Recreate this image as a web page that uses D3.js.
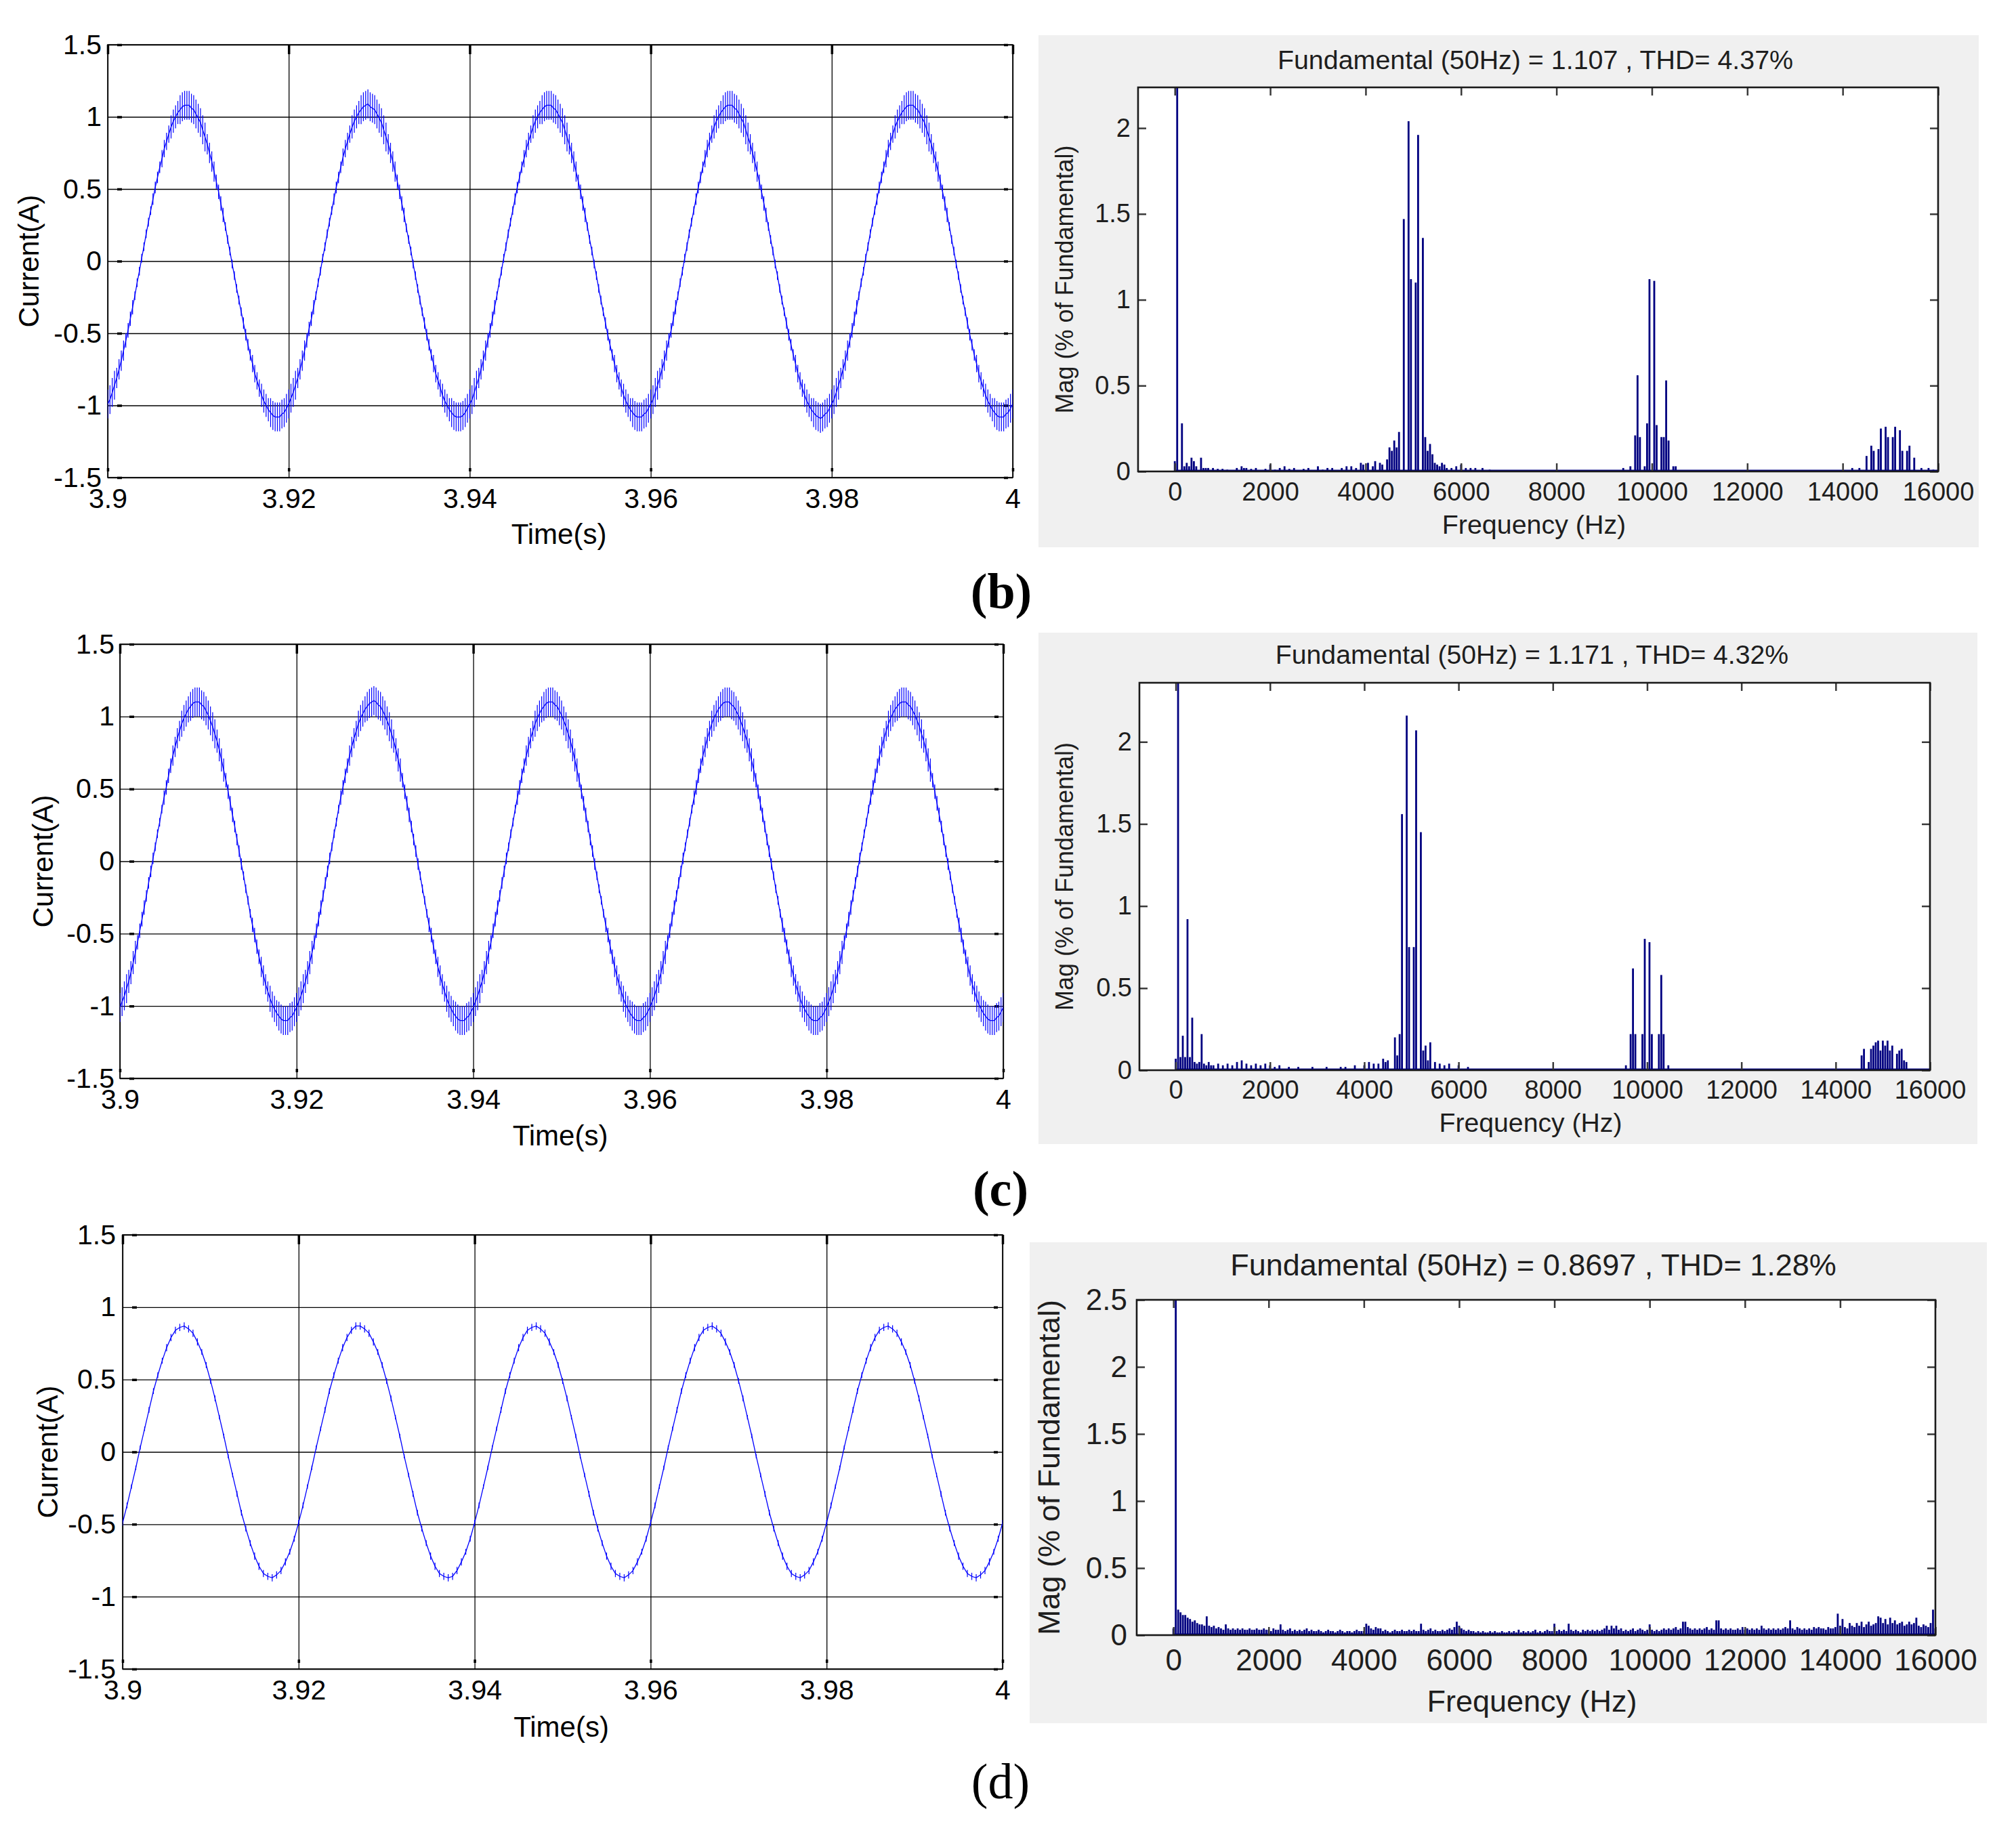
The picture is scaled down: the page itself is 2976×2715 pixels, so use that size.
<!DOCTYPE html>
<html>
<head>
<meta charset="utf-8">
<script src="https://cdn.jsdelivr.net/npm/d3@7"></script>
<style>
body { margin: 0; background: #fff; }
</style>
</head>
<body>
<svg id="fig" width="2976" height="2715"></svg>
<script>
var FONT = "'Liberation Sans', Arial, sans-serif";

// axis ticks
var timeTicks = [3.9, 3.92, 3.94, 3.96, 3.98, 4];
var curTicks = [-1.5, -1, -0.5, 0, 0.5, 1, 1.5];
var freqTicks = [0, 2000, 4000, 6000, 8000, 10000, 12000, 14000, 16000];
var magTicks = [0, 0.5, 1, 1.5, 2];
var magTicksD = [0, 0.5, 1, 1.5, 2, 2.5];

// current samples from 3.9 s to 4.0 s (b, c every 0.25 ms)
var curB = [
  -.99,-.96,-.91,-.86,-.81,-.75,-.69,-.62,-.55,-.48,-.4,-.32,-.24,-.15,-.07,.02,.1,.19,.27,.35,.43,.51,.58,.65,.71,.78,.83,.88,.93,.97,1,1.03,1.05,1.07,1.08,1.08,1.08,1.06,1.05,1.02,
  .99,.96,.91,.86,.81,.75,.69,.62,.55,.48,.4,.32,.24,.15,.07,-.02,-.1,-.19,-.27,-.35,-.43,-.51,-.58,-.65,-.71,-.78,-.83,-.88,-.93,-.97,-1,-1.03,-1.05,-1.07,-1.08,-1.08,-1.08,-1.06,-1.05,-1.02,
  -.99,-.95,-.91,-.86,-.81,-.75,-.69,-.62,-.55,-.47,-.4,-.32,-.24,-.15,-.07,.02,.1,.19,.27,.35,.43,.51,.58,.65,.72,.78,.83,.88,.93,.97,1,1.03,1.05,1.07,1.08,1.09,1.07,1.06,1.05,1.02,
  .99,.96,.91,.86,.81,.75,.69,.62,.55,.48,.4,.32,.23,.15,.07,-.02,-.1,-.19,-.27,-.35,-.43,-.51,-.58,-.65,-.71,-.78,-.83,-.88,-.93,-.97,-1,-1.03,-1.05,-1.07,-1.08,-1.08,-1.08,-1.07,-1.05,-1.02,
  -.99,-.96,-.91,-.86,-.81,-.75,-.69,-.62,-.55,-.48,-.4,-.32,-.24,-.15,-.07,.02,.1,.19,.27,.35,.43,.51,.58,.65,.71,.78,.83,.88,.93,.97,1,1.03,1.05,1.07,1.08,1.08,1.08,1.06,1.05,1.02,
  .99,.96,.91,.86,.81,.75,.69,.62,.55,.48,.4,.32,.24,.15,.07,-.02,-.1,-.19,-.27,-.35,-.43,-.51,-.58,-.65,-.71,-.78,-.83,-.88,-.93,-.97,-1,-1.03,-1.05,-1.07,-1.08,-1.08,-1.08,-1.06,-1.05,-1.02,
  -.99,-.96,-.91,-.86,-.81,-.75,-.69,-.62,-.55,-.48,-.4,-.32,-.24,-.15,-.07,.02,.1,.19,.27,.35,.43,.51,.58,.65,.71,.78,.83,.88,.93,.97,1,1.03,1.05,1.07,1.08,1.08,1.08,1.06,1.05,1.02,
  .99,.96,.91,.86,.81,.75,.69,.62,.55,.48,.4,.32,.24,.15,.07,-.02,-.1,-.19,-.27,-.35,-.43,-.51,-.58,-.65,-.71,-.78,-.83,-.88,-.93,-.97,-1,-1.03,-1.05,-1.07,-1.08,-1.09,-1.08,-1.06,-1.05,-1.02,
  -.99,-.96,-.91,-.86,-.81,-.75,-.69,-.62,-.55,-.48,-.4,-.32,-.24,-.15,-.07,.02,.1,.19,.27,.35,.43,.51,.58,.65,.71,.78,.83,.88,.93,.97,1,1.03,1.05,1.07,1.08,1.08,1.08,1.06,1.05,1.02,
  .99,.96,.91,.86,.81,.75,.69,.62,.55,.48,.4,.32,.24,.15,.07,-.02,-.1,-.19,-.27,-.35,-.43,-.51,-.58,-.65,-.71,-.78,-.83,-.88,-.93,-.97,-1,-1.03,-1.05,-1.07,-1.08,-1.08,-1.08,-1.06,-1.05,-1.02,
  -.99
];
var curC = [
  -1.01,-.97,-.93,-.88,-.83,-.77,-.7,-.63,-.56,-.48,-.4,-.32,-.24,-.15,-.07,.02,.1,.19,.27,.36,.44,.51,.59,.66,.73,.79,.85,.9,.95,.99,1.02,1.05,1.07,1.09,1.1,1.1,1.1,1.08,1.07,1.04,
  1.01,.97,.93,.88,.83,.77,.7,.63,.56,.48,.4,.32,.24,.15,.07,-.02,-.1,-.19,-.27,-.36,-.44,-.51,-.59,-.66,-.73,-.79,-.85,-.9,-.95,-.99,-1.02,-1.05,-1.07,-1.09,-1.1,-1.1,-1.1,-1.08,-1.07,-1.04,
  -1.01,-.97,-.93,-.88,-.83,-.77,-.7,-.63,-.56,-.48,-.4,-.32,-.24,-.15,-.07,.02,.1,.19,.27,.36,.44,.51,.59,.66,.73,.79,.85,.9,.95,.99,1.02,1.05,1.07,1.09,1.1,1.11,1.1,1.08,1.07,1.04,
  1.01,.97,.93,.88,.83,.77,.7,.63,.56,.48,.4,.32,.24,.15,.07,-.02,-.1,-.19,-.27,-.36,-.44,-.51,-.59,-.66,-.73,-.79,-.85,-.9,-.95,-.99,-1.02,-1.05,-1.07,-1.09,-1.1,-1.1,-1.1,-1.08,-1.07,-1.04,
  -1.01,-.97,-.93,-.88,-.83,-.77,-.7,-.63,-.56,-.48,-.4,-.32,-.24,-.15,-.07,.02,.1,.19,.27,.36,.44,.51,.59,.66,.73,.79,.85,.9,.95,.99,1.02,1.05,1.07,1.09,1.1,1.1,1.1,1.08,1.07,1.04,
  1.01,.97,.93,.88,.83,.77,.7,.63,.56,.48,.4,.32,.24,.15,.07,-.02,-.1,-.19,-.27,-.36,-.44,-.51,-.59,-.66,-.73,-.79,-.85,-.9,-.95,-.99,-1.02,-1.05,-1.07,-1.09,-1.1,-1.1,-1.1,-1.08,-1.07,-1.04,
  -1.01,-.97,-.93,-.88,-.83,-.77,-.7,-.63,-.56,-.48,-.4,-.32,-.24,-.15,-.07,.02,.1,.19,.27,.36,.44,.51,.59,.66,.73,.79,.85,.9,.95,.99,1.02,1.05,1.07,1.09,1.1,1.1,1.1,1.08,1.07,1.04,
  1.01,.97,.93,.88,.83,.77,.7,.63,.56,.48,.4,.32,.24,.15,.07,-.02,-.1,-.19,-.27,-.36,-.44,-.51,-.59,-.66,-.73,-.79,-.85,-.9,-.95,-.99,-1.02,-1.05,-1.07,-1.09,-1.1,-1.1,-1.1,-1.08,-1.07,-1.04,
  -1.01,-.97,-.93,-.88,-.83,-.77,-.7,-.63,-.56,-.48,-.4,-.32,-.24,-.15,-.07,.02,.1,.19,.27,.36,.44,.51,.59,.66,.73,.79,.85,.9,.95,.99,1.02,1.05,1.07,1.09,1.1,1.1,1.1,1.08,1.07,1.04,
  1.01,.97,.93,.88,.83,.77,.7,.63,.56,.48,.4,.32,.24,.15,.07,-.02,-.1,-.19,-.27,-.36,-.44,-.51,-.59,-.66,-.73,-.79,-.85,-.9,-.95,-.99,-1.02,-1.05,-1.07,-1.09,-1.1,-1.1,-1.1,-1.08,-1.07,-1.04,
  -1.01
];
// panel (d) every 0.5 ms
var curD = [
  -.49,-.37,-.24,-.11,.03,.16,.29,.42,.53,.63,.72,.79,.84,.86,.87,.85,.82,.76,.69,.6,.49,.37,.24,.11,-.03,-.16,-.29,-.42,-.53,-.63,-.72,-.79,-.84,-.86,-.87,-.85,-.82,-.76,-.69,-.6,
  -.49,-.37,-.24,-.11,.03,.16,.29,.42,.53,.63,.72,.79,.84,.87,.87,.85,.82,.76,.69,.6,.49,.37,.24,.11,-.03,-.16,-.29,-.42,-.53,-.63,-.72,-.79,-.84,-.86,-.87,-.86,-.82,-.76,-.69,-.6,
  -.49,-.37,-.24,-.11,.03,.16,.29,.42,.53,.63,.72,.79,.84,.86,.87,.85,.82,.76,.69,.6,.49,.37,.24,.11,-.03,-.16,-.29,-.42,-.53,-.63,-.72,-.79,-.84,-.86,-.87,-.85,-.82,-.76,-.69,-.6,
  -.49,-.37,-.24,-.11,.03,.16,.29,.42,.53,.63,.72,.79,.84,.86,.87,.85,.82,.76,.69,.6,.49,.37,.24,.11,-.03,-.16,-.29,-.42,-.53,-.63,-.72,-.79,-.84,-.86,-.87,-.85,-.82,-.76,-.69,-.6,
  -.49,-.37,-.24,-.11,.03,.16,.29,.42,.53,.63,.72,.79,.84,.86,.87,.85,.82,.76,.69,.6,.49,.37,.24,.11,-.03,-.16,-.29,-.42,-.53,-.63,-.72,-.79,-.84,-.86,-.87,-.85,-.82,-.76,-.69,-.6,
  -.49
];

// switching ripple half-height, every 1 ms
var ripB = [
  .1,.07,.05,.03,.03,.04,.06,.08,.1,.1,.1,.07,.05,.03,.03,.04,.06,.08,.1,.1,
  .1,.07,.05,.03,.03,.04,.06,.08,.1,.1,.1,.07,.05,.03,.03,.04,.06,.08,.1,.1,
  .1,.07,.05,.03,.03,.04,.06,.08,.1,.1,.1,.07,.05,.03,.03,.04,.06,.08,.1,.1,
  .1,.07,.05,.03,.03,.04,.06,.08,.1,.1,.1,.07,.05,.03,.03,.04,.06,.08,.1,.1,
  .1,.07,.05,.03,.03,.04,.06,.08,.1,.1,.1,.07,.05,.03,.03,.04,.06,.08,.1,.1,
  .1
];
var ripC = [
  .1,.08,.05,.04,.03,.05,.07,.09,.1,.1,.1,.08,.05,.04,.03,.05,.07,.09,.1,.1,
  .1,.08,.05,.04,.03,.05,.07,.09,.1,.1,.1,.08,.05,.04,.03,.05,.07,.09,.1,.1,
  .1,.08,.05,.04,.03,.05,.07,.09,.1,.1,.1,.08,.05,.04,.03,.05,.07,.09,.1,.1,
  .1,.08,.05,.04,.03,.05,.07,.09,.1,.1,.1,.08,.05,.04,.03,.05,.07,.09,.1,.1,
  .1,.08,.05,.04,.03,.05,.07,.09,.1,.1,.1,.08,.05,.04,.03,.05,.07,.09,.1,.1,
  .1
];
var ripD = [
  .02,.015,.015,.02,.02,.025,.025,.025,.025,.02,.02,.015,.015,.02,.02,.025,.025,.025,.025,.02,
  .02,.015,.015,.02,.02,.025,.025,.025,.025,.02,.02,.015,.015,.02,.02,.025,.025,.025,.025,.02,
  .02,.015,.015,.02,.02,.025,.025,.025,.025,.02,.02,.015,.015,.02,.02,.025,.025,.025,.025,.02,
  .02,.015,.015,.02,.02,.025,.025,.025,.025,.02,.02,.015,.015,.02,.02,.025,.025,.025,.025,.02,
  .02,.015,.015,.02,.02,.025,.025,.025,.025,.02,.02,.015,.015,.02,.02,.025,.025,.025,.025,.02,
  .02
];

// harmonic spectra: [frequency Hz, magnitude % of fundamental]
var fftB = [
  [0,.06],[50,100],[150,.28],[200,.03],[250,.05],[300,.03],[350,.08],[400,.06],[450,.03],[550,.08],[600,.02],[650,.02],
  [700,.02],[800,.02],[900,.015],[1000,.015],[1100,.01],[1300,.02],[1400,.03],[1450,.02],[1500,.02],[1600,.015],[1700,.02],
  [1900,.015],[2000,.04],[2100,.01],[2200,.02],[2300,.03],[2400,.015],[2500,.02],[2700,.015],[2800,.02],[3000,.03],[3100,.01],
  [3200,.02],[3300,.02],[3500,.02],[3600,.03],[3700,.03],[3800,.02],[3900,.05],[3950,.04],[4050,.05],[4150,.03],[4200,.06],
  [4300,.05],[4350,.04],[4450,.07],[4500,.14],[4550,.12],[4600,.18],[4650,.14],[4700,.23],[4800,1.47],[4900,2.04],[4950,1.12],
  [5050,1.1],[5100,1.96],[5200,1.36],[5250,.2],[5300,.12],[5350,.16],[5400,.1],[5450,.05],[5500,.04],[5550,.03],[5600,.05],
  [5650,.04],[5700,.02],[5800,.02],[5900,.03],[6000,.04],[6100,.02],[6200,.02],[6300,.02],[6450,.02],[6600,.01],
  [9400,.02],[9550,.03],[9650,.21],[9700,.56],[9750,.2],[9850,.03],[9900,.28],[9950,1.12],[10050,1.11],[10100,.27],
  [10200,.2],[10250,.2],[10300,.53],[10350,.18],[10450,.03],[10500,.03],
  [14200,.02],[14350,.02],[14500,.09],[14600,.15],[14650,.12],[14750,.13],[14800,.25],[14900,.26],[14950,.2],[15050,.2],
  [15100,.26],[15200,.24],[15250,.12],[15350,.12],[15400,.15],[15500,.08],[15650,.02],[15800,.02],[15900,.01]
];
var fftC = [
  [0,.07],[50,100],[100,.08],[150,.21],[200,.08],[250,.92],[300,.08],[350,.32],[400,.05],[450,.04],[500,.05],[550,.22],
  [600,.04],[650,.03],[700,.05],[750,.03],[800,.03],[900,.04],[1000,.03],[1100,.04],[1200,.03],[1300,.05],[1400,.06],
  [1500,.04],[1600,.03],[1700,.04],[1800,.03],[1900,.04],[2000,.03],[2100,.02],[2200,.03],[2400,.02],[2600,.02],[2900,.02],
  [3200,.02],[3500,.02],[3600,.02],[3800,.03],[4000,.03],[4100,.05],[4200,.04],[4300,.04],[4400,.07],[4450,.05],[4500,.06],
  [4650,.2],[4700,.09],[4750,.22],[4800,1.56],[4900,2.16],[4950,.75],[5050,.75],[5100,2.07],[5200,1.45],[5250,.12],
  [5300,.15],[5350,.06],[5400,.17],[5500,.05],[5600,.04],[5700,.03],[5800,.04],[6000,.03],[6200,.02],
  [9550,.03],[9650,.22],[9700,.62],[9750,.22],[9900,.22],[9950,.8],[10050,.78],[10100,.22],[10250,.22],[10300,.58],
  [10350,.22],[10450,.03],
  [14550,.09],[14600,.13],[14700,.05],[14750,.13],[14800,.15],[14850,.17],[14900,.18],[14950,.12],[15000,.18],[15050,.15],
  [15100,.18],[15150,.12],[15200,.15],[15300,.1],[15350,.12],[15400,.13],[15450,.06],[15500,.05]
];
// panel (d): every 50 Hz bin from 0 to 16000 Hz
var fftD = [
  .05,100,.19,.17,.15,.15,.13,.12,.1,.11,.09,.08,.08,.07,.14,.07,.06,.07,.05,.06,
  .05,.04,.08,.05,.04,.05,.04,.05,.04,.05,.04,.04,.05,.04,.04,.05,.04,.04,.05,.04,
  .04,.03,.05,.04,.04,.08,.04,.03,.04,.05,.03,.04,.03,.04,.03,.04,.05,.03,.04,.03,
  .03,.04,.03,.02,.03,.04,.03,.03,.02,.03,.04,.03,.02,.03,.03,.02,.03,.04,.03,.03,
  .03,.085,.07,.05,.04,.06,.05,.05,.03,.04,.03,.02,.03,.04,.03,.03,.04,.03,.03,.04,
  .03,.04,.03,.03,.085,.04,.03,.04,.05,.03,.04,.03,.03,.04,.03,.04,.05,.04,.06,.1,
  .07,.05,.04,.03,.04,.03,.03,.02,.03,.02,.03,.02,.02,.03,.02,.03,.02,.02,.03,.02,
  .02,.03,.02,.03,.02,.04,.02,.03,.02,.03,.02,.03,.04,.02,.03,.02,.03,.04,.03,.03,
  .085,.03,.04,.03,.04,.03,.085,.04,.03,.04,.03,.02,.04,.03,.04,.03,.04,.03,.04,.03,
  .04,.05,.07,.04,.07,.05,.07,.04,.05,.03,.04,.03,.04,.05,.03,.04,.05,.04,.03,.04,
  .08,.04,.03,.04,.03,.04,.05,.04,.05,.04,.05,.06,.04,.05,.1,.1,.06,.05,.04,.05,
  .04,.05,.04,.05,.06,.04,.05,.04,.11,.11,.05,.04,.05,.04,.05,.04,.04,.05,.04,.06,
  .04,.05,.04,.05,.04,.05,.04,.07,.05,.04,.05,.04,.05,.04,.05,.04,.05,.06,.05,.11,
  .05,.04,.06,.05,.04,.05,.04,.05,.04,.06,.05,.06,.05,.05,.04,.06,.05,.05,.06,.16,
  .07,.12,.06,.05,.09,.07,.06,.09,.07,.1,.06,.08,.1,.07,.08,.09,.14,.13,.09,.12,
  .08,.13,.09,.11,.08,.09,.1,.07,.08,.1,.08,.09,.13,.07,.06,.08,.07,.06,.09,.19,
  .05
];

var titles = [
  "Fundamental (50Hz) = 1.107 , THD= 4.37%",
  "Fundamental (50Hz) = 1.171 , THD= 4.32%",
  "Fundamental (50Hz) = 0.8697 , THD= 1.28%"
];
var panelTags = ["(b)", "(c)", "(d)"];

var svg = d3.select("#fig");
var defs = svg.append("defs");

function styleAxis(sel, size, color) {
  sel.attr("font-family", FONT).attr("font-size", size);
  sel.select(".domain").remove();
  sel.selectAll("text").attr("fill", color);
}

function drawWave(p, k) {
  var x = d3.scaleLinear().domain([3.9, 4]).range([p.x0, p.x1]);
  var y = d3.scaleLinear().domain([-1.5, 1.5]).range([p.y1, p.y0]);
  var w = p.x1 - p.x0, h = p.y1 - p.y0;
  var g = svg.append("g");

  // grid
  g.append("g").attr("transform", "translate(0," + p.y1 + ")")
    .call(d3.axisBottom(x).tickValues(timeTicks).tickSize(-h).tickFormat(""))
    .call(function(a) { a.select(".domain").remove(); })
    .selectAll("line").attr("stroke", "#000").attr("stroke-width", 1.3);
  g.append("g").attr("transform", "translate(" + p.x0 + ",0)")
    .call(d3.axisLeft(y).tickValues(curTicks).tickSize(-w).tickFormat(""))
    .call(function(a) { a.select(".domain").remove(); })
    .selectAll("line").attr("stroke", "#000").attr("stroke-width", 1.3);

  // short tick marks
  g.append("g").attr("transform", "translate(" + p.x0 + ",0)")
    .call(d3.axisLeft(y).tickValues(curTicks).tickSize(-21).tickFormat(""))
    .call(function(a) { a.select(".domain").remove(); })
    .selectAll("line").attr("stroke", "#000").attr("stroke-width", 3.5).attr("stroke-dasharray", "0 14 7 60");
  g.append("g").attr("transform", "translate(" + p.x1 + ",0)")
    .call(d3.axisRight(y).tickValues(curTicks).tickSize(-13).tickFormat(""))
    .call(function(a) { a.select(".domain").remove(); })
    .selectAll("line").attr("stroke", "#000").attr("stroke-width", 3.5).attr("stroke-dasharray", "0 7 6 60");
  g.append("g").attr("transform", "translate(0," + p.y0 + ")")
    .call(d3.axisTop(x).tickValues(timeTicks).tickSize(-14).tickFormat(""))
    .call(function(a) { a.select(".domain").remove(); })
    .selectAll("line").attr("stroke", "#000").attr("stroke-width", 3.5);
  g.append("g").attr("transform", "translate(0," + p.y1 + ")")
    .call(d3.axisBottom(x).tickValues(timeTicks).tickSize(-14).tickFormat(""))
    .call(function(a) { a.select(".domain").remove(); })
    .selectAll("line").attr("stroke", "#000").attr("stroke-width", 3.5).attr("stroke-dasharray", "0 9 5 60");

  // box
  g.append("rect").attr("x", p.x0).attr("y", p.y0).attr("width", w).attr("height", h)
    .attr("fill", "none").attr("stroke", "#000").attr("stroke-width", 1.6);

  // waveform
  var cid = "wclip" + k;
  defs.append("clipPath").attr("id", cid).append("rect")
    .attr("x", p.x0).attr("y", p.y0).attr("width", w).attr("height", h);
  var pts = p.cur.map(function(v, i) {
    return { t: 3.9 + i * p.dt, v: v, r: p.rip[Math.min(p.rip.length - 1, Math.floor(i * p.dt / 0.001 + 1e-6))] };
  });
  var wg = g.append("g").attr("clip-path", "url(#" + cid + ")");
  wg.append("path").datum(pts)
    .attr("d", d3.line().x(function(d) { return x(d.t); }).y(function(d) { return y(d.v); }))
    .attr("fill", "none").attr("stroke", "#0000ff").attr("stroke-width", 1.3);
  wg.selectAll("line.sp").data(pts).join("line").attr("class", "sp")
    .attr("x1", function(d) { return x(d.t); }).attr("x2", function(d) { return x(d.t); })
    .attr("y1", function(d) { return y(d.v + d.r); }).attr("y2", function(d) { return y(d.v - d.r); })
    .attr("stroke", "#0000ff").attr("stroke-width", 1.2);

  // tick labels
  g.append("g").attr("transform", "translate(" + p.x0 + ",0)")
    .call(d3.axisLeft(y).tickValues(curTicks).tickSize(0).tickPadding(p.ypad).tickFormat(function(d) { return String(d); }))
    .call(styleAxis, 41, "#000");
  g.append("g").attr("transform", "translate(0," + p.y1 + ")")
    .call(d3.axisBottom(x).tickValues(timeTicks).tickSize(0).tickPadding(16).tickFormat(function(d) { return String(d); }))
    .call(styleAxis, 41, "#000");

  // axis titles
  g.append("text").attr("x", (p.x0 + p.x1) / 2 - 2).attr("y", p.timeY)
    .attr("text-anchor", "middle").attr("dominant-baseline", "central")
    .attr("font-family", FONT).attr("font-size", 42).text("Time(s)");
  g.append("text").attr("transform", "translate(" + p.ylabX + "," + y(0) + ") rotate(-90)")
    .attr("text-anchor", "middle").attr("dominant-baseline", "central")
    .attr("font-family", FONT).attr("font-size", 42).text("Current(A)");
}

function drawFft(p, k) {
  var x = d3.scaleLinear().domain([-770, 16000]).range([p.x0, p.x1]);
  var y = d3.scaleLinear().domain([0, p.ymax]).range([p.y1, p.y0]);
  var w = p.x1 - p.x0, h = p.y1 - p.y0;
  var ink = "#1e1e1e";
  var g = svg.append("g");

  g.append("rect").attr("x", p.bg[0]).attr("y", p.bg[1])
    .attr("width", p.bg[2] - p.bg[0]).attr("height", p.bg[3] - p.bg[1]).attr("fill", "#f0f0f0");
  g.append("rect").attr("x", p.x0).attr("y", p.y0).attr("width", w).attr("height", h).attr("fill", "#fff");

  var cid = "fclip" + k;
  defs.append("clipPath").attr("id", cid).append("rect")
    .attr("x", p.x0).attr("y", p.y0).attr("width", w).attr("height", h);
  var bw = x(40) - x(0);
  var bg = g.append("g").attr("clip-path", "url(#" + cid + ")");
  bg.selectAll("rect").data(p.bars).join("rect")
    .attr("x", function(d) { return x(d[0]) - bw / 2; })
    .attr("width", bw)
    .attr("y", function(d) { return y(Math.min(d[1], p.ymax * 1.05)); })
    .attr("height", function(d) { return y(0) - y(Math.min(d[1], p.ymax * 1.05)); })
    .attr("fill", "#000080");
  bg.append("line").attr("x1", x(0)).attr("x2", x(16000)).attr("y1", y(0) - 1).attr("y2", y(0) - 1)
    .attr("stroke", "#000080").attr("stroke-width", 3);

  // inward ticks on all sides
  var tk = 12;
  function tickStyle(a) {
    a.select(".domain").remove();
    a.selectAll("line").attr("stroke", "#3a3a3a").attr("stroke-width", 2.5);
  }
  g.append("g").attr("transform", "translate(" + p.x0 + ",0)")
    .call(d3.axisLeft(y).tickValues(p.yticks).tickSize(-tk).tickFormat("")).call(tickStyle);
  g.append("g").attr("transform", "translate(" + p.x1 + ",0)")
    .call(d3.axisRight(y).tickValues(p.yticks).tickSize(-tk).tickFormat("")).call(tickStyle);
  g.append("g").attr("transform", "translate(0," + p.y0 + ")")
    .call(d3.axisTop(x).tickValues(freqTicks).tickSize(-tk).tickFormat("")).call(tickStyle);
  g.append("g").attr("transform", "translate(0," + p.y1 + ")")
    .call(d3.axisBottom(x).tickValues(freqTicks).tickSize(-tk).tickFormat("")).call(tickStyle);

  g.append("rect").attr("x", p.x0).attr("y", p.y0).attr("width", w).attr("height", h)
    .attr("fill", "none").attr("stroke", "#1a1a1a").attr("stroke-width", 2.6);

  // tick labels
  g.append("g").attr("transform", "translate(" + p.x0 + ",0)")
    .call(d3.axisLeft(y).tickValues(p.yticks).tickSize(0).tickPadding(p.ypad).tickFormat(function(d) { return String(d); }))
    .call(styleAxis, p.fs, ink);
  g.append("g").attr("transform", "translate(0," + p.y1 + ")")
    .call(d3.axisBottom(x).tickValues(freqTicks).tickSize(0).tickPadding(p.xpad).tickFormat(function(d) { return String(d); }))
    .call(styleAxis, p.fs, ink);

  g.append("text").attr("x", (p.x0 + p.x1) / 2 - 4).attr("y", p.titleY)
    .attr("text-anchor", "middle").attr("dominant-baseline", "central")
    .attr("font-family", FONT).attr("font-size", p.titleFs).attr("fill", ink).text(p.title);
  g.append("text").attr("x", (p.x0 + p.x1) / 2 - 6).attr("y", p.xlabY)
    .attr("text-anchor", "middle").attr("dominant-baseline", "central")
    .attr("font-family", FONT).attr("font-size", p.titleFs).attr("fill", ink).text("Frequency (Hz)");
  g.append("text").attr("transform", "translate(" + p.ylabX + "," + (p.y0 + p.y1) / 2 + ") rotate(-90)")
    .attr("text-anchor", "middle").attr("dominant-baseline", "central")
    .attr("font-family", FONT).attr("font-size", p.ylabFs).attr("fill", ink).text("Mag (% of Fundamental)");
}

var wavePanels = [
  { cur: curB, rip: ripB, dt: 0.00025, x0: 159, x1: 1495, y0: 66, y1: 705, ypad: 9, timeY: 788, ylabX: 42 },
  { cur: curC, rip: ripC, dt: 0.00025, x0: 177, x1: 1481, y0: 951, y1: 1592, ypad: 8, timeY: 1676, ylabX: 63 },
  { cur: curD, rip: ripD, dt: 0.0005, x0: 181, x1: 1480, y0: 1823, y1: 2464, ypad: 10, timeY: 2549, ylabX: 70 }
];
wavePanels.forEach(drawWave);

var fftPanels = [
  { bars: fftB, bg: [1533, 52, 2921, 808], x0: 1680, x1: 2861, y0: 129, y1: 696, ymax: 2.237, yticks: magTicks,
    title: titles[0], fs: 38, titleFs: 39.4, ylabFs: 36, ypad: 11, xpad: 16, titleY: 88, xlabY: 774, ylabX: 1571 },
  { bars: fftC, bg: [1533, 934, 2919, 1689], x0: 1682, x1: 2849, y0: 1008, y1: 1580, ymax: 2.36, yticks: magTicks,
    title: titles[1], fs: 38, titleFs: 39.2, ylabFs: 36, ypad: 11, xpad: 15, titleY: 966, xlabY: 1657, ylabX: 1571 },
  { bars: fftD.map(function(v, i) { return [i * 50, v]; }), bg: [1520, 1834, 2933, 2544], x0: 1678, x1: 2857, y0: 1919, y1: 2414,
    ymax: 2.5, yticks: magTicksD, title: titles[2], fs: 44, titleFs: 45, ylabFs: 45, ypad: 14, xpad: 21,
    titleY: 1867, xlabY: 2511, ylabX: 1548 }
];
fftPanels.forEach(drawFft);

// sub-figure tags
var tagPos = [[1478, 898, "bold"], [1477, 1780, "bold"], [1477, 2655, "normal"]];
svg.selectAll("text.tag").data(panelTags).join("text").attr("class", "tag")
  .attr("x", function(d, i) { return tagPos[i][0]; })
  .attr("y", function(d, i) { return tagPos[i][1]; })
  .attr("text-anchor", "middle")
  .attr("font-family", "'Liberation Serif', 'Times New Roman', serif")
  .attr("font-size", 74)
  .attr("font-weight", function(d, i) { return tagPos[i][2]; })
  .text(function(d) { return d; });
</script>
</body>
</html>
